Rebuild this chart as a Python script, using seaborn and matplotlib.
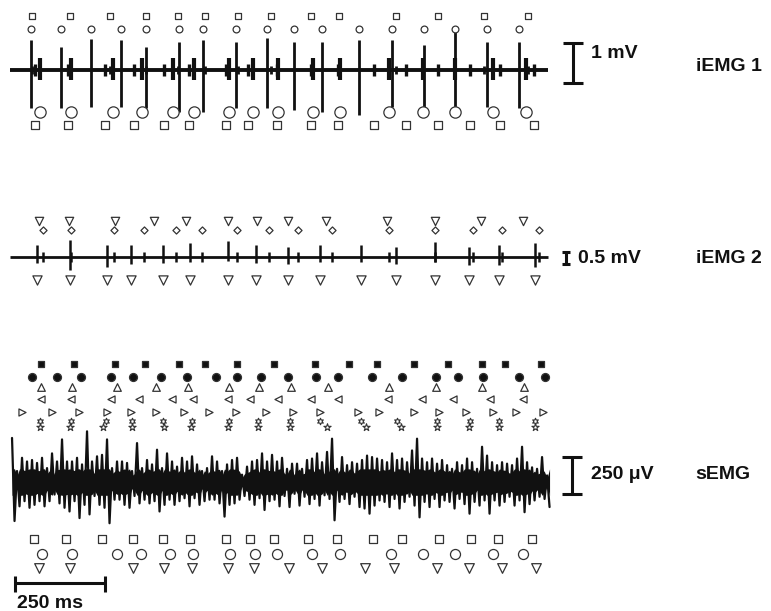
import numpy as np
import seaborn as sns
import matplotlib.pyplot as plt

sns.set_theme(style="white")
plt.rcParams['font.family'] = ['Liberation Sans', 'DejaVu Sans']

# recording length (ms)
t_end = 1494

# ---- iEMG 1 : firing times (ms) of the decomposed units
emg1_sq_top = [61, 167, 278, 378, 467, 542, 633, 725, 836, 914, 1072, 1189, 1317, 1439]
emg1_circ_top = [58, 142, 225, 308, 378, 469, 536, 628, 714, 789, 867, 969, 1061, 1150, 1236, 1325, 1414]
emg1_circ_bot = [83, 169, 286, 367, 453, 511, 608, 675, 744, 842, 917, 1053, 1147, 1236, 1342, 1433]
emg1_sq_bot = [69, 161, 264, 344, 428, 497, 600, 661, 742, 836, 911, 1011, 1100, 1189, 1278, 1361, 1456]
# large unit spike peaks (mV)
emg1_up = [.75, .58, .78, .75, .58, .70, .75, .70, .80, .70, .70, .75, .75, .62, .95, .70, .70]
emg1_dn = [.95, .95, .92, .92, .95, 1.05, 1.05, .95, .95, 1.0, 1.05, 1.12, .92, .92, .92, .92, .95]

# ---- iEMG 2
emg2_tri_top = [81, 164, 292, 400, 489, 606, 686, 772, 878, 1047, 1181, 1308, 1425]
emg2_diam = [92, 169, 289, 372, 461, 533, 631, 719, 800, 894, 1053, 1181, 1286, 1367, 1469]
emg2_tri_bot = [75, 167, 269, 336, 425, 500, 606, 683, 772, 861, 975, 1072, 1181, 1275, 1358, 1458]
emg2_up = [.50, .71, .50, .50, .50, .58, .67, .50, .42, .50, .50, .42, .62, .42, .50, .58]
emg2_dn = [.25, .54, .42, .29, .25, .21, .17, .25, .29, .21, .21, .29, .21, .33, .33, .42]

# ---- sEMG : units identified above the trace
semg_fsq = [86, 178, 292, 375, 469, 542, 631, 733, 847, 942, 1019, 1122, 1217, 1311, 1375, 1475]
semg_fcirc = [61, 131, 197, 281, 342, 419, 492, 572, 631, 697, 772, 850, 911, 1006, 1089, 1183, 1244,
              1314, 1414, 1486]
semg_tri_up = [86, 172, 297, 406, 494, 608, 692, 781, 883, 1053, 1183, 1311, 1428]
semg_tri_left = [86, 169, 281, 358, 450, 508, 606, 667, 744, 836, 911, 1050, 1144, 1231, 1333, 1425]
semg_tri_right = [33, 117, 192, 269, 336, 406, 483, 553, 628, 711, 786, 861, 967, 1025, 1122, 1192,
                  1267, 1342, 1406, 1481]
semg_hexa = [83, 169, 267, 339, 425, 506, 608, 689, 778, 861, 975, 1075, 1186, 1278, 1358, 1458]
semg_star = [83, 167, 258, 339, 428, 503, 606, 689, 778, 881, 989, 1086, 1186, 1275, 1358, 1458]
# units found below the trace
semg_sq = [67, 156, 256, 342, 425, 500, 600, 667, 733, 828, 908, 1008, 1089, 1192, 1281, 1356, 1450]
semg_circ = [89, 172, 297, 364, 444, 508, 611, 681, 742, 839, 917, 1058, 1147, 1236, 1342, 1425]
semg_tri_dn = [81, 167, 342, 428, 506, 606, 678, 775, 867, 986, 1067, 1186, 1275, 1367, 1461]

# sEMG signal: positive / negative peak per 13.9 ms bin (uV)
semg_t0 = 5.6
semg_dt = 13.89
semg_hi = [300, 75, 165, 140, 150, 130, 165, 95, 195, 140, 290, 140, 140, 165, 120, 345, 140, 175,
           185, 290, 95, 140, 140, 130, 75, 265, 95, 150, 120, 220, 95, 195, 140, 105, 165, 140,
           175, 120, 75, 95, 175, 140, 75, 120, 150, 165, 50, 105, 140, 150, 195, 140, 185, 140,
           165, 90, 125, 125, 90, 150, 160, 195, 135, 205, 295, 90, 170, 115, 135, 125, 150, 180,
           170, 160, 150, 135, 195, 150, 160, 135, 215, 295, 160, 135, 160, 125, 150, 115, 90, 135,
           115, 160, 135, 90, 240, 180, 135, 115, 135, 125, 115, 160, 240, 135, 100, 90, 170, 45]
semg_lo = [265, 165, 130, 175, 155, 130, 165, 130, 85, 145, 175, 200, 130, 245, 155, 220, 95, 155,
           175, 280, 120, 120, 155, 175, 95, 145, 120, 145, 130, 200, 155, 120, 155, 130, 110, 165,
           110, 155, 130, 120, 120, 145, 235, 155, 145, 120, 95, 120, 155, 110, 190, 130, 120, 165,
           95, 170, 80, 160, 100, 150, 115, 160, 90, 115, 260, 135, 115, 150, 100, 170, 180, 215,
           160, 125, 135, 170, 115, 180, 135, 100, 160, 240, 135, 170, 115, 170, 125, 135, 180, 115,
           150, 215, 135, 160, 125, 215, 125, 160, 135, 100, 160, 125, 205, 150, 125, 100, 115, 170]

# pixel 0..771 of the figure mapped to time
xlim = (-27.8, 2113.9)
fig = plt.figure(figsize=(7.71, 6.11), dpi=100)
ax1 = fig.add_axes([0, 0.7545, 1, 0.2455])
ax2 = fig.add_axes([0, 0.4599, 1, 0.2455])
ax3 = fig.add_axes([0, 0, 1, 0.4435])
ax1.set_ylim(-2.0, 1.75)
ax2.set_ylim(-3.042, 3.208)
ax3.set_ylim(-877, 966)
for ax in (ax1, ax2, ax3):
    ax.set_xlim(*xlim)
    ax.axis('off')

ink = '#111111'
edge = '#333333'


def row(ax, times, level, marker, size, filled=False, lw=0.9):
    sns.scatterplot(x=times, y=[level] * len(times), marker=marker, s=size,
                    color=ink if filled else 'white', edgecolor=edge, linewidth=lw,
                    ax=ax, legend=False, zorder=5)


def label(ax, t, y, s):
    ax.text(t, y, s, ha='left', va='center', fontsize=14, fontweight='bold', color=ink)


def vbar(ax, t, y0, y1, half=27.8):
    ax.vlines(t, y0, y1, color=ink, lw=2.2)
    ax.hlines([y0, y1], t - half, t + half, color=ink, lw=2.2)


# ---- iEMG 1
ax1.hlines(0, 0, t_end, color=ink, lw=2.8)
ax1.vlines(emg1_sq_top, -0.1, 0.1, color=ink, lw=2.0)
ax1.vlines(emg1_sq_bot, -0.14, 0.16, color=ink, lw=2.4)
ax1.vlines(emg1_circ_bot, -0.26, 0.3, color=ink, lw=3.0)
ax1.vlines(emg1_circ_top, -np.array(emg1_dn), emg1_up, color=ink, lw=2.0)
row(ax1, emg1_sq_top, 1.35, 's', 23)
row(ax1, emg1_circ_top, 1.025, 'o', 24)
row(ax1, emg1_circ_bot, -1.05, 'o', 66)
row(ax1, emg1_sq_bot, -1.375, 's', 38)
vbar(ax1, 1563, -0.32, 0.68)
label(ax1, 1613, 0.42, '1 mV')
label(ax1, 1906, 0.08, 'iEMG 1')

# ---- iEMG 2
ax2.hlines(0, 0, t_end, color=ink, lw=2.0)
ax2.vlines(emg2_diam, -0.22, 0.2, color=ink, lw=1.8)
ax2.vlines(emg2_tri_bot, -np.array(emg2_dn), emg2_up, color=ink, lw=1.8)
row(ax2, emg2_tri_top, 1.52, 'v', 36)
row(ax2, emg2_diam, 1.13, 'D', 13)
row(ax2, emg2_tri_bot, -0.95, 'v', 44)
vbar(ax2, 1544, -0.29, 0.21, half=12)
label(ax2, 1578, -0.08, '0.5 mV')
label(ax2, 1906, -0.08, 'iEMG 2')

# ---- sEMG
n = len(semg_hi)
t_hi = semg_t0 + semg_dt * np.arange(n)
t_lo = t_hi + semg_dt / 2
tz = np.column_stack([t_hi, t_lo]).ravel()
vz = np.column_stack([semg_hi, -np.array(semg_lo)]).ravel()
core = np.minimum(0.6 * np.abs(vz), 90)
ax3.fill_between(tz, -core, core, color=ink, lw=0)
sns.lineplot(x=tz, y=vz, sort=False, estimator=None, color=ink, linewidth=1.6, ax=ax3)

row(ax3, semg_fsq, 800, 's', 23, filled=True)
row(ax3, semg_fcirc, 712, 'o', 33, filled=True)
row(ax3, semg_tri_up, 644, '^', 30)
row(ax3, semg_tri_left, 562, '<', 26)
row(ax3, semg_tri_right, 478, '>', 26)
row(ax3, semg_hexa, 417, (6, 1, 0), 22, lw=0.8)
row(ax3, semg_star, 372, '*', 30, lw=0.8)
row(ax3, semg_sq, -390, 's', 33)
row(ax3, semg_circ, -492, 'o', 52)
row(ax3, semg_tri_dn, -587, 'v', 48)

vbar(ax3, 1560, -82, 168)
label(ax3, 1613, 48, '250 \u03bcV')
label(ax3, 1903, 48, 'sEMG')

# time scale bar
ax3.hlines(-689, 14, 264, color=ink, lw=2.2)
ax3.vlines([14, 264], -746, -639, color=ink, lw=2.2)
label(ax3, 19, -825, '250 ms')

fig.savefig('out.png', dpi=100, facecolor='white')
